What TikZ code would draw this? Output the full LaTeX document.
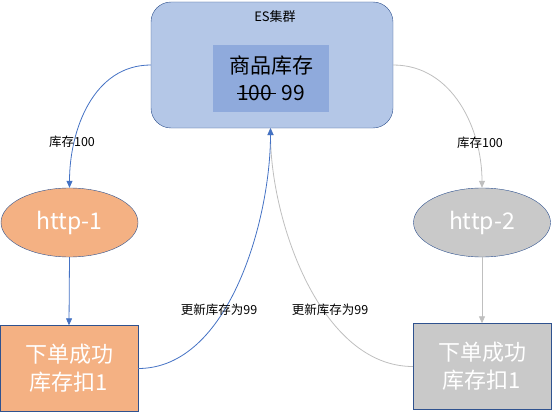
\documentclass[tikz,border=0pt]{standalone}
\usepackage{fontspec}
\setmainfont{Noto Sans CJK SC}
\usepackage{tikz}
\usetikzlibrary{arrows.meta,shapes.geometric}

\definecolor{esfill}{HTML}{B4C7E7}
\definecolor{esdraw}{HTML}{2F528F}
\definecolor{stockfill}{HTML}{8FAADC}
\definecolor{orangefill}{HTML}{F4B183}
\definecolor{grayfill}{HTML}{C9C9C9}
\definecolor{blueline}{HTML}{4472C4}
\definecolor{grayline}{HTML}{BFBFBF}

\newlength\strklen
\newcommand{\strk}[1]{\settowidth{\strklen}{#1}\rlap{\rule[0.3em]{1.12\strklen}{0.05em}}#1}

\begin{document}
\begin{tikzpicture}[
    x=1pt, y=-1pt,
    >={Triangle[length=7pt,width=6pt]},
    clusterbox/.style={draw=esdraw, fill=esfill, rounded corners=20pt, minimum width=242pt, minimum height=126pt, inner sep=0pt},
    stockbox/.style={fill=stockfill, align=center, minimum width=116pt, minimum height=67pt, inner sep=0pt, font=\fontsize{21}{27}\selectfont},
    reqnode/.style={draw=esdraw, ellipse, minimum width=137pt, minimum height=69pt, inner sep=0pt, text=white, font=\fontsize{23}{26}\selectfont},
    orderbox/.style={draw=esdraw, align=center, minimum width=138pt, minimum height=86pt, inner sep=0pt, text=white, font=\fontsize{22}{28}\selectfont},
    lbl/.style={font=\fontsize{12.5}{14}\selectfont, inner sep=0pt},
    bluearrow/.style={->, draw=blueline, line width=0.8pt},
    grayarrow/.style={->, draw=grayline, line width=0.8pt}
  ]
    \useasboundingbox (0,0) rectangle (552,412);

    % ES cluster with stock box
    \node[clusterbox] (es) at (272,65) {};
    \node[font=\fontsize{13}{15}\selectfont] (estitle) at (275,17) {ES集群};
    \node[stockbox] (stock) at (271,78.5) {商品库存\\\strk{100}\ \ 99};

    % requests
    \node[reqnode, fill=orangefill] (http1) at (69.5,222.5) {http-1};
    \node[reqnode, fill=grayfill] (http2) at (482,222.5) {http-2};
    \node[orderbox, fill=orangefill] (order1) at (69,368.5) {下单成功\\库存扣1};
    \node[orderbox, fill=grayfill] (order2) at (482,366.5) {下单成功\\库存扣1};

    \coordinate (esin) at (270.5,128);

    \draw[bluearrow] (es.west) to[out=180, in=90] (http1.north);
    \draw[grayarrow] (es.east) to[out=0, in=90] (http2.north);
    \draw[bluearrow] (http1.south) -- (order1.north);
    \draw[grayarrow] (http2.south) -- (order2.north);
    \draw[grayarrow] (order2.west) to[out=180, in=-90, looseness=0.85] (esin);
    \draw[bluearrow] (order1.east) to[out=0, in=-90, looseness=0.85] (esin);

    \node[lbl] (l1) at (72,142) {库存100};
    \node[lbl] (l2) at (480,143) {库存100};
    \node[lbl] (l3) at (219,310) {更新库存为99};
    \node[lbl] (l4) at (330,310) {更新库存为99};
\end{tikzpicture}
\end{document}
